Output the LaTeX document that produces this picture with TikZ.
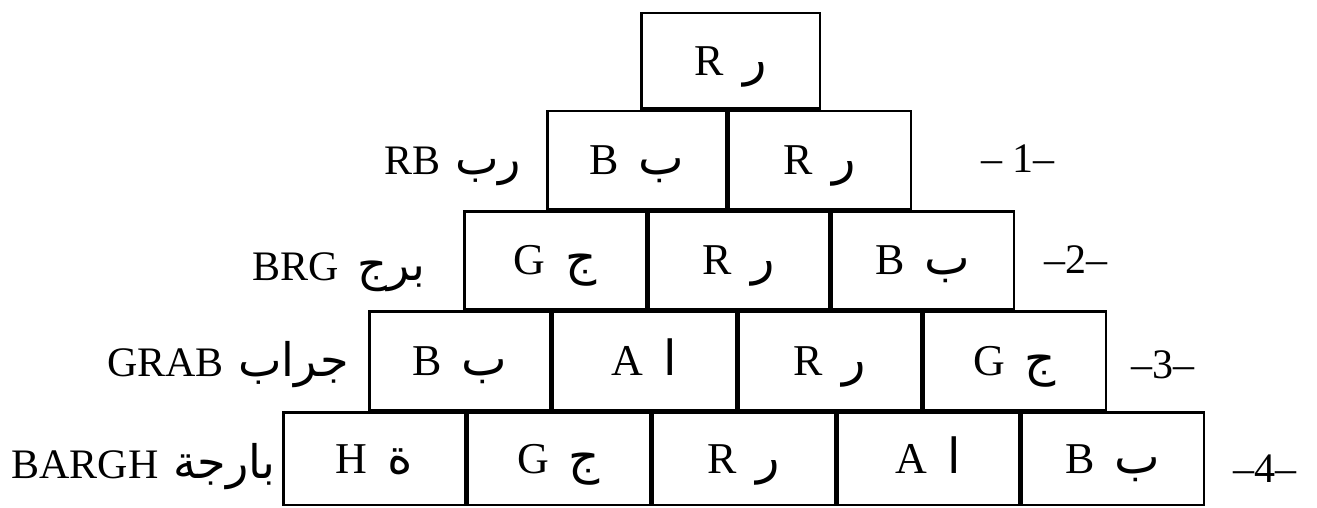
\documentclass[tikz,border=0pt]{standalone}
\usepackage{fontspec}
\setmainfont{Liberation Serif}
\newfontfamily\arabicfont[Script=Arabic,Scale=1.1]{DejaVu Sans}
\TeXXeTstate=1
\newcommand\arab[1]{{\arabicfont\beginR #1\endR}}
\newcommand\brick[6]{%
  \pgfmathsetmacro\bw{#3-#2-2.5}\pgfmathsetmacro\bh{#5-#4-2.5}%
  \node[brick, minimum width=\bw pt, minimum height=\bh pt] (#1) at ({(#2+#3)/2},{(#4+#5)/2}) {#6};}
\tikzset{
  brick/.style={draw, line width=2.5pt, inner sep=0pt, outer sep=0pt,
    font=\fontsize{44}{50}\selectfont, text height=29pt, text depth=0pt},
  lbl/.style={inner sep=0pt, font=\fontsize{42}{48}\selectfont},
}
\begin{document}
\begin{tikzpicture}[x=1pt,y=-1pt]
\fill[white] (0,0) rectangle (1317,508);
\useasboundingbox (0,0) rectangle (1317,508);
% row 0
\brick{a0}{640}{821}{12}{110}{R\hspace{0.45em}\arab{ر}}
% row 1
\brick{b1}{546}{727}{110}{210}{B\hspace{0.45em}\arab{ب}}
\brick{b2}{727}{912}{110}{210}{R\hspace{0.45em}\arab{ر}}
% row 2
\brick{c1}{463}{647}{210}{310}{G\hspace{0.45em}\arab{ج}}
\brick{c2}{647}{830}{210}{310}{R\hspace{0.45em}\arab{ر}}
\brick{c3}{830}{1015}{210}{310}{B\hspace{0.45em}\arab{ب}}
% row 3
\brick{d1}{368}{551}{310}{411}{B\hspace{0.45em}\arab{ب}}
\brick{d2}{551}{737}{310}{411}{A\hspace{0.45em}\arab{ا}}
\brick{d3}{737}{922}{310}{411}{R\hspace{0.45em}\arab{ر}}
\brick{d4}{922}{1107}{310}{411}{G\hspace{0.45em}\arab{ج}}
% row 4
\brick{e1}{282}{466}{411}{506}{H\hspace{0.45em}\arab{ة}}
\brick{e2}{466}{651}{411}{506}{G\hspace{0.45em}\arab{ج}}
\brick{e3}{651}{836}{411}{506}{R\hspace{0.45em}\arab{ر}}
\brick{e4}{836}{1020}{411}{506}{A\hspace{0.45em}\arab{ا}}
\brick{e5}{1020}{1205}{411}{506}{B\hspace{0.45em}\arab{ب}}
% left labels
\node[lbl, anchor=base east] (w1) at (521,175) {RB\hspace{0.35em}\arab{رب}};
\node[lbl, anchor=base east] (w2) at (426,280) {BRG\hspace{0.45em}\arab{برج}};
\node[lbl, anchor=base east] (w3) at (349,376) {GRAB\hspace{0.35em}\arab{جراب}};
\node[lbl, anchor=base east] (w4) at (276,478) {BARGH\hspace{0.35em}\arab{بارجة}};
% right labels
\node[lbl, anchor=base] (n1) at (1018,172) {–\hspace{0.25em}1–};
\node[lbl, anchor=base] (n2) at (1076,273) {–2–};
\node[lbl, anchor=base] (n3) at (1163,378) {–3–};
\node[lbl, anchor=base] (n4) at (1265,482) {–4–};
\end{tikzpicture}
\end{document}
